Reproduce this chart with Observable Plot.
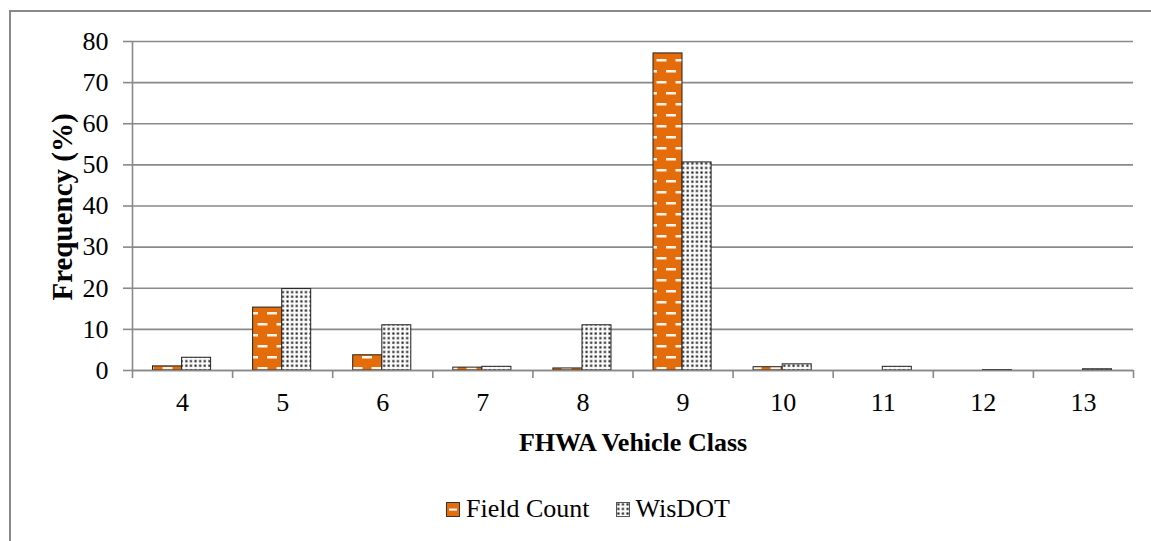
<!DOCTYPE html>
<html>
<head>
<meta charset="utf-8">
<script src="https://cdn.jsdelivr.net/npm/d3@7"></script>
<script src="https://cdn.jsdelivr.net/npm/@observablehq/plot@0.6"></script>
<style>
  body { margin: 0; background: #fff; }
  #wrap { position: relative; width: 1151px; height: 541px; overflow: hidden;
          font-family: "Liberation Serif", "Times New Roman", serif; }
  #border { position: absolute; left: 9px; top: 10px; width: 1300px; height: 700px;
            border-left: 2px solid #898989; border-top: 2px solid #898989; }
  #chart { position: absolute; left: 0; top: 0; }
  #legend { position: absolute; top: 496px; left: 446px; display: flex; align-items: center;
            font-size: 26px; color: #000; white-space: nowrap; line-height: 1; }
  #legend .item { display: flex; align-items: center; }
  #legend .txt { margin-left: 6px; }
</style>
</head>
<body>
<svg width="0" height="0" style="position:absolute">
  <defs>
    <pattern id="pFC" patternUnits="userSpaceOnUse" width="19" height="22">
      <rect width="19" height="22" fill="#E46C0A"/>
      <rect x="1" y="4" width="10" height="2.5" fill="#fff4ea"/>
      <rect x="10.5" y="15" width="10" height="2.5" fill="#fff4ea"/>
      <rect x="-8.5" y="15" width="10" height="2.5" fill="#fff4ea"/>
    </pattern>
    <pattern id="pWD" patternUnits="userSpaceOnUse" width="4.6" height="4.6">
      <rect width="4.6" height="4.6" fill="#fafafa"/>
      <rect x="1.3" y="1.3" width="2.1" height="2.1" fill="#1a1a1a"/>
    </pattern>
    <pattern id="pFCs" patternUnits="userSpaceOnUse" width="14" height="15">
      <rect width="14" height="15" fill="#E46C0A"/>
      <rect x="3" y="6.5" width="8" height="2.2" fill="#fff4ea"/>
    </pattern>
  </defs>
</svg>
<div id="wrap">
  <div id="border"></div>
  <div id="chart"></div>
  <div id="legend">
    <div class="item">
      <svg width="14" height="15"><rect x="0.5" y="0.5" width="13" height="14" fill="url(#pFCs)" stroke="#333" stroke-width="1"/></svg>
      <span class="txt">Field Count</span>
    </div>
    <div class="item" style="margin-left:26px">
      <svg width="14" height="15"><rect x="0.5" y="0.5" width="13" height="14" fill="url(#pWD)" stroke="#555" stroke-width="1"/></svg>
      <span class="txt">WisDOT</span>
    </div>
  </div>
</div>
<script>
// ---- data ----
const classes = [4, 5, 6, 7, 8, 9, 10, 11, 12, 13];
const fieldCount = [1.0, 15.3, 3.7, 0.7, 0.5, 77.1, 0.8, 0, 0, 0];
const wisdot = [3.1, 19.8, 11.0, 0.9, 11.0, 50.6, 1.5, 0.9, 0.1, 0.3];
const yTicks = [0, 10, 20, 30, 40, 50, 60, 70, 80];
const seriesNames = ["Field Count", "WisDOT"];

const fcData = classes.map((c, i) => ({cls: c, v: fieldCount[i], s: seriesNames[0]})).filter(d => d.v > 0);
const wdData = classes.map((c, i) => ({cls: c, v: wisdot[i], s: seriesNames[1]})).filter(d => d.v > 0);
const boundaries = classes.map(c => c - 0.5).concat([classes[classes.length - 1] + 0.5]);

const gray = "#898989";

const chart = Plot.plot({
  width: 1151,
  height: 470,
  marginLeft: 132,
  marginRight: 18,
  marginTop: 41,
  marginBottom: 100,
  style: {
    fontFamily: '"Liberation Serif", "Times New Roman", serif',
    fontSize: "26px",
    color: "#000",
    background: "transparent",
    overflow: "visible"
  },
  x: {domain: [boundaries[0], boundaries[boundaries.length - 1]]},
  y: {domain: [0, 80]},
  marks: [
    Plot.gridY(yTicks, {stroke: gray, strokeOpacity: 1, strokeWidth: 1.6}),
    Plot.rect(fcData, {x1: d => d.cls - 0.5, x2: d => d.cls + 0.5, y1: 0, y2: "v",
      insetLeft: 20.5, insetRight: 50.6, fill: "url(#pFC)", stroke: "#222", strokeWidth: 1}),
    Plot.rect(wdData, {x1: d => d.cls - 0.5, x2: d => d.cls + 0.5, y1: 0, y2: "v",
      insetLeft: 49.6, insetRight: 21.5, fill: "url(#pWD)", stroke: "#222", strokeWidth: 1}),
    Plot.ruleY([0], {stroke: gray, strokeWidth: 1.6}),
    Plot.ruleX([boundaries[0]], {y1: 0, y2: 80, stroke: gray, strokeWidth: 1.6}),
    Plot.axisY({ticks: yTicks, tickSize: 9, tickPadding: 15, stroke: gray, strokeWidth: 1.6,
      fill: "#000", label: null}),
    Plot.axisX({ticks: boundaries, tickSize: 8, stroke: gray, strokeWidth: 1.6, fill: "none", label: null}),
    Plot.axisX({ticks: classes, tickSize: 0, tickPadding: 22, fill: "#000", label: null,
      tickFormat: d => String(d)}),
    Plot.text(["FHWA Vehicle Class"], {text: d => d, frameAnchor: "bottom", dy: 80,
      lineAnchor: "bottom", textAnchor: "middle", fontWeight: "bold", fontSize: 26, fill: "#000"}),
    Plot.text(["Frequency (%)"], {text: d => d, frameAnchor: "left", dx: -70, dy: 1,
      textAnchor: "middle", lineAnchor: "middle", rotate: -90, fontWeight: "bold", fontSize: 29, fill: "#000"})
  ]
});
document.getElementById("chart").appendChild(chart);
</script>
</body>
</html>
